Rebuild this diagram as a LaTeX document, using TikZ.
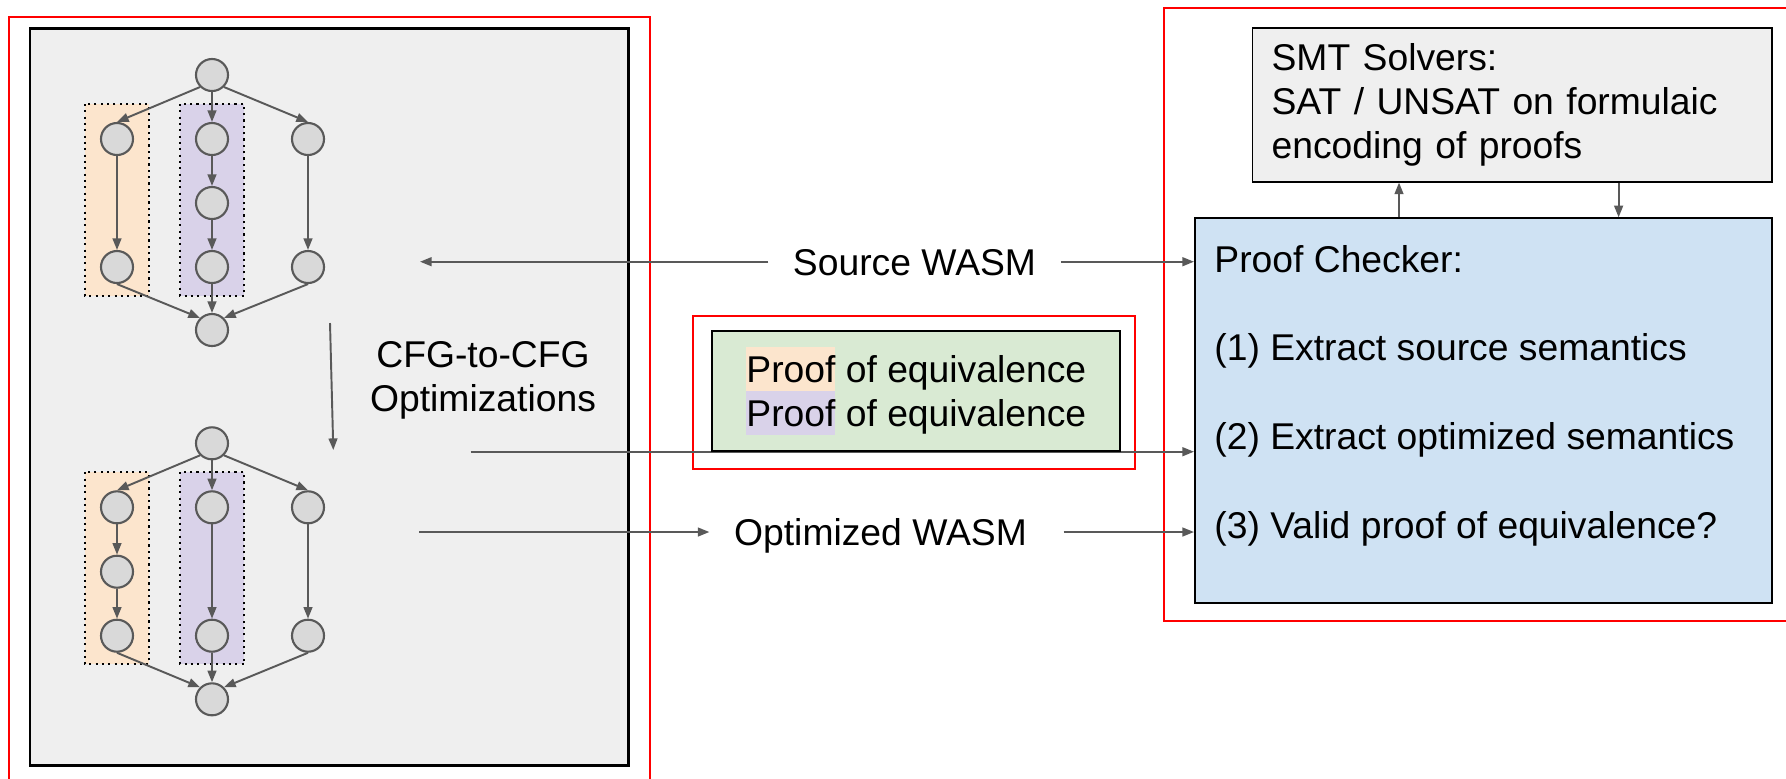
\documentclass[tikz,border=0pt]{standalone}
\usepackage{fontspec}
\setmainfont{Liberation Sans}
\usetikzlibrary{arrows.meta, positioning, calc}
\definecolor{lineGray}{HTML}{595959}
\definecolor{nodeGray}{HTML}{D9D9D9}
\definecolor{panelGray}{HTML}{EFEFEF}
\definecolor{hlOrange}{HTML}{FCE5CD}
\definecolor{hlPurple}{HTML}{D9D2E9}
\definecolor{proofGreen}{HTML}{D9EAD3}
\definecolor{checkBlue}{HTML}{CFE2F3}
\definecolor{frameRed}{HTML}{FF0000}
\newcommand{\hlword}[2]{{\setlength{\fboxsep}{0pt}\colorbox{#1}{\rule[-2.45pt]{0pt}{12.4pt}#2}}}

\begin{document}
\begin{tikzpicture}[
    x=0.01cm, y=-0.01cm,
    every node/.style={font=\fontsize{10.6}{12.5}\selectfont},
    cfgnode/.style={circle, draw=lineGray, fill=nodeGray, line width=0.6pt,
                    minimum size=0.32cm, inner sep=0pt},
    flow/.style={draw=lineGray, line width=0.55pt,
                 -{Triangle[length=3.3pt, width=2.5pt]}},
    redframe/.style={draw=frameRed, line width=0.55pt},
    hlstrip/.style={draw=black, line width=0.6pt, dash pattern=on 0.6pt off 1.2pt},
    block/.style={draw=black, line width=0.55pt, inner sep=0pt},
    wasm/.style={inner xsep=0.24cm, inner ysep=0pt, text height=0.267cm, text depth=0pt},
  ]
  \useasboundingbox (0,0) rectangle (1786,778);
  \clip (0,0) rectangle (1786,778);

  % red frames
  \draw[redframe] (9,16.7) rectangle (650.3,800);
  \draw[redframe] (1164.2,8.1) rectangle (1800,621);
  \draw[redframe] (693,315.7) rectangle (1135,469);

  % CFG panel
  \node[block, fill=panelGray, line width=0.7pt, anchor=north west,
        minimum width=5.984cm, minimum height=7.364cm] (cfgpanel) at (28.6,27.3) {};

  \draw[hlstrip, fill=hlOrange] (85,104)    rectangle (148.7,296);
  \draw[hlstrip, fill=hlPurple] (180.3,104) rectangle (244.3,296);
  \draw[hlstrip, fill=hlOrange] (85,472.3)    rectangle (148.7,664.3);
  \draw[hlstrip, fill=hlPurple] (180.3,472.3) rectangle (244.3,664.3);

  % source CFG
  \node[cfgnode] (s-top) at (212,75)  {};
  \node[cfgnode] (s-l1)  at (117,139) {};
  \node[cfgnode] (s-l2)  at (117,267) {};
  \node[cfgnode] (s-m1)  at (212,139) {};
  \node[cfgnode] (s-m2)  at (212,203) {};
  \node[cfgnode] (s-m3)  at (212,267) {};
  \node[cfgnode] (s-r1)  at (308,139) {};
  \node[cfgnode] (s-r2)  at (308,267) {};
  \node[cfgnode] (s-bot) at (212,330) {};
  \draw[flow] (s-top.south west) -- (s-l1.north);
  \draw[flow] (s-top) -- (s-m1);
  \draw[flow] (s-top.south east) -- (s-r1.north);
  \draw[flow] (s-l1) -- (s-l2);
  \draw[flow] (s-m1) -- (s-m2);
  \draw[flow] (s-m2) -- (s-m3);
  \draw[flow] (s-r1) -- (s-r2);
  \draw[flow] (s-l2.south) -- (s-bot.north west);
  \draw[flow] (s-m3) -- (s-bot);
  \draw[flow] (s-r2.south) -- (s-bot.north east);

  % optimized CFG
  \node[cfgnode] (o-top) at (212,443.3) {};
  \node[cfgnode] (o-l1)  at (117,507.3) {};
  \node[cfgnode] (o-l2)  at (117,571.7) {};
  \node[cfgnode] (o-l3)  at (117,635.7) {};
  \node[cfgnode] (o-m1)  at (212,507.3) {};
  \node[cfgnode] (o-m2)  at (212,635.7) {};
  \node[cfgnode] (o-r1)  at (308,507.3) {};
  \node[cfgnode] (o-r2)  at (308,635.7) {};
  \node[cfgnode] (o-bot) at (212,699.3) {};
  \draw[flow] (o-top.south west) -- (o-l1.north);
  \draw[flow] (o-top) -- (o-m1);
  \draw[flow] (o-top.south east) -- (o-r1.north);
  \draw[flow] (o-l1) -- (o-l2);
  \draw[flow] (o-l2) -- (o-l3);
  \draw[flow] (o-m1) -- (o-m2);
  \draw[flow] (o-r1) -- (o-r2);
  \draw[flow] (o-l3.south) -- (o-bot.north west);
  \draw[flow] (o-m2) -- (o-bot);
  \draw[flow] (o-r2.south) -- (o-bot.north east);

  \coordinate (cfgfrom) at (330,323);
  \coordinate (cfgto)   at (333.3,450);
  \draw[flow] (cfgfrom) -- (cfgto);
  \node[align=center] (cfglabel) at (483,380) {CFG-to-CFG\\Optimizations};

  % checker side
  \node[block, fill=checkBlue, anchor=north west,
        minimum width=5.767cm, minimum height=3.848cm] (checker) at (1194,217.3) {};
  \node[anchor=north west, inner sep=0pt, align=left] (checktext) at (1213.7,244.5)
    {Proof Checker:\\[12.7pt](1) Extract source semantics\\[12.7pt](2) Extract optimized semantics\\[12.7pt](3) Valid proof of equivalence?};
  \node[block, fill=panelGray, anchor=north west, minimum width=5.192cm,
        minimum height=1.533cm, text width=4.81cm, inner xsep=0.19cm, align=left]
    (smt) at (1251.5,27.2) {SMT Solvers:\\SAT / UNSAT on formulaic\\encoding of proofs};

  \coordinate (askx)   at (1399,0);
  \coordinate (replyx) at (1618.6,0);
  \draw[flow] (checker.north -| askx) -- (smt.south -| askx);
  \draw[flow] (smt.south -| replyx) -- (checker.north -| replyx);

  % WASM flows
  \node[wasm] (srcwasm) at (914.5,261.7) {Source WASM};
  \coordinate (srcin) at (420,261.7);
  \draw[flow] (srcwasm.west) -- (srcin);
  \draw[flow] (srcwasm.east) -- (srcwasm.east -| checker.west);

  \node[wasm] (optwasm) at (880.5,532) {Optimized WASM};
  \coordinate (optout) at (419,532);
  \draw[flow] (optout) -- (optwasm.west);
  \draw[flow] ([xshift=0.12cm]optwasm.east) -- (optwasm.east -| checker.west);

  \coordinate (proofsrc) at (470.7,451.7);
  \draw[flow] (proofsrc) -- (proofsrc -| checker.west);
  \node[block, fill=proofGreen, align=center, minimum width=4.075cm,
        minimum height=1.203cm] (proofs) at (916.3,390.9)
    {\hlword{hlOrange}{Proof} of equivalence\\\hlword{hlPurple}{Proof} of equivalence};
\end{tikzpicture}
\end{document}
